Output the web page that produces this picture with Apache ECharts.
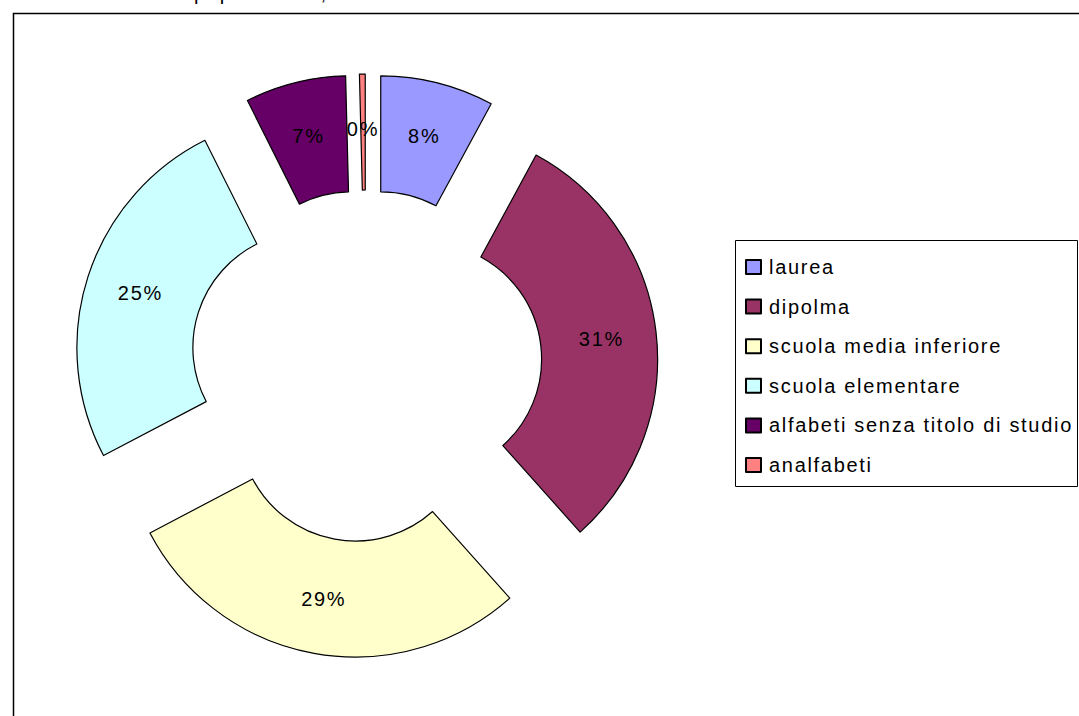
<!DOCTYPE html>
<html>
<head>
<meta charset="utf-8">
<script src="https://cdn.jsdelivr.net/npm/echarts@6/dist/echarts.min.js"></script>
<style>
  html, body { margin: 0; padding: 0; background: #fff; }
  #chart { width: 1079px; height: 716px; }
  #chart text { letter-spacing: 1.7px; }
</style>
</head>
<body>
<div id="chart"></div>
<script>
// Titolo di studio della popolazione (quote percentuali)
const categories = ['laurea', 'dipolma', 'scuola media inferiore', 'scuola elementare', 'alfabeti senza titolo di studio', 'analfabeti'];
const shares = [7.9, 30.5, 28.9, 25.3, 7.0, 0.4];
const sliceColors = ['#9999FF', '#993366', '#FFFFCC', '#CCFFFF', '#660066', '#FF8080'];
const titleText = 'popolazione,';

const FONT = '"Liberation Sans", Arial, sans-serif';

const chart = echarts.init(document.getElementById('chart'), null, { renderer: 'svg' });

chart.setOption({
  animation: false,
  backgroundColor: '#ffffff',
  graphic: [
    {
      type: 'rect',
      silent: true,
      shape: { x: 13.5, y: 13.5, width: 1200, height: 800 },
      style: { fill: 'none', stroke: '#000', lineWidth: 1.5 }
    },
    {
      type: 'text',
      silent: true,
      x: 194,
      y: 3,
      style: {
        text: titleText,
        font: '20px ' + FONT,
        fill: '#000',
        verticalAlign: 'bottom'
      }
    },
    {
      type: 'rect',
      silent: true,
      shape: { x: 735.5, y: 240.5, width: 342, height: 246 },
      style: { fill: '#fff', stroke: '#000', lineWidth: 1 }
    }
  ],
  legend: {
    orient: 'vertical',
    left: 745,
    top: 257,
    padding: 0,
    itemGap: 19.6,
    itemWidth: 15,
    itemHeight: 14,
    icon: 'rect',
    selectedMode: false,
    data: categories,
    textStyle: {
      fontFamily: FONT,
      fontSize: 20,
      lineHeight: 20,
      color: '#000',
      padding: [0, 0, 0, 3]
    }
  },
  series: [
    {
      type: 'pie',
      center: [366, 366],
      radius: [116, 232],
      startAngle: 90,
      clockwise: true,
      selectedMode: 'multiple',
      selectedOffset: 60,
      avoidLabelOverlap: false,
      percentPrecision: 0,
      itemStyle: { borderColor: '#000', borderWidth: 1.2 },
      label: {
        show: true,
        position: 'inside',
        formatter: '{d}%',
        fontFamily: FONT,
        fontSize: 20,
        color: '#000'
      },
      labelLine: { show: false },
      emphasis: { disabled: true },
      data: categories.map((name, i) => ({
        name: name,
        value: shares[i],
        selected: true,
        itemStyle: { color: sliceColors[i] }
      }))
    }
  ]
});
</script>
</body>
</html>
